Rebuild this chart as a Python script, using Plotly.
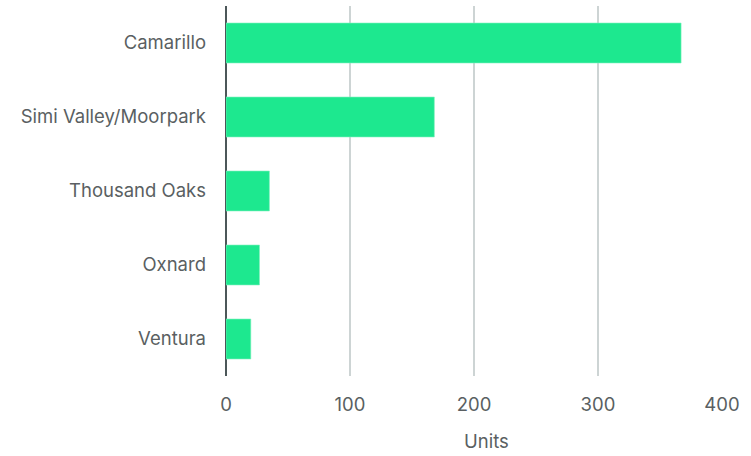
import plotly.graph_objects as go

# Units by city
cities = ["Camarillo", "Simi Valley/Moorpark", "Thousand Oaks", "Oxnard", "Ventura"]
units = [367, 168, 35, 27, 20]
tick_vals = [0, 100, 200, 300, 400]

fig = go.Figure(
    go.Bar(
        x=units,
        y=cities,
        orientation="h",
        width=0.54,
        marker=dict(color="#1de88f", line=dict(color="#7ff0bd", width=0.6)),
        hoverinfo="x+y",
    )
)

fig.update_layout(
    width=751,
    height=456,
    margin=dict(l=226, r=29, t=6, b=80),
    paper_bgcolor="white",
    plot_bgcolor="white",
    font=dict(family="Inter, sans-serif", size=18.5, color="#5a5f62"),
    showlegend=False,
    bargap=0.46,
)

fig.update_xaxes(
    range=[0, 400],
    tickvals=tick_vals,
    showgrid=True,
    gridcolor="#cdd4d4",
    gridwidth=2,
    zeroline=True,
    zerolinecolor="#4c5759",
    zerolinewidth=2,
    showline=False,
    ticks="",
    ticklabelstandoff=15,
)

fig.update_yaxes(
    categoryorder="array",
    categoryarray=cities[::-1],
    showgrid=False,
    zeroline=False,
    showline=False,
    ticks="",
    ticklabelstandoff=19,
)

# Axis title placed slightly right of the plot centre
fig.add_annotation(
    text="Units",
    xref="paper",
    yref="paper",
    x=0.526,
    y=-0.175,
    xanchor="center",
    yanchor="middle",
    showarrow=False,
    font=dict(size=18.5, color="#5a5f62"),
)

fig.write_html("out.html")
